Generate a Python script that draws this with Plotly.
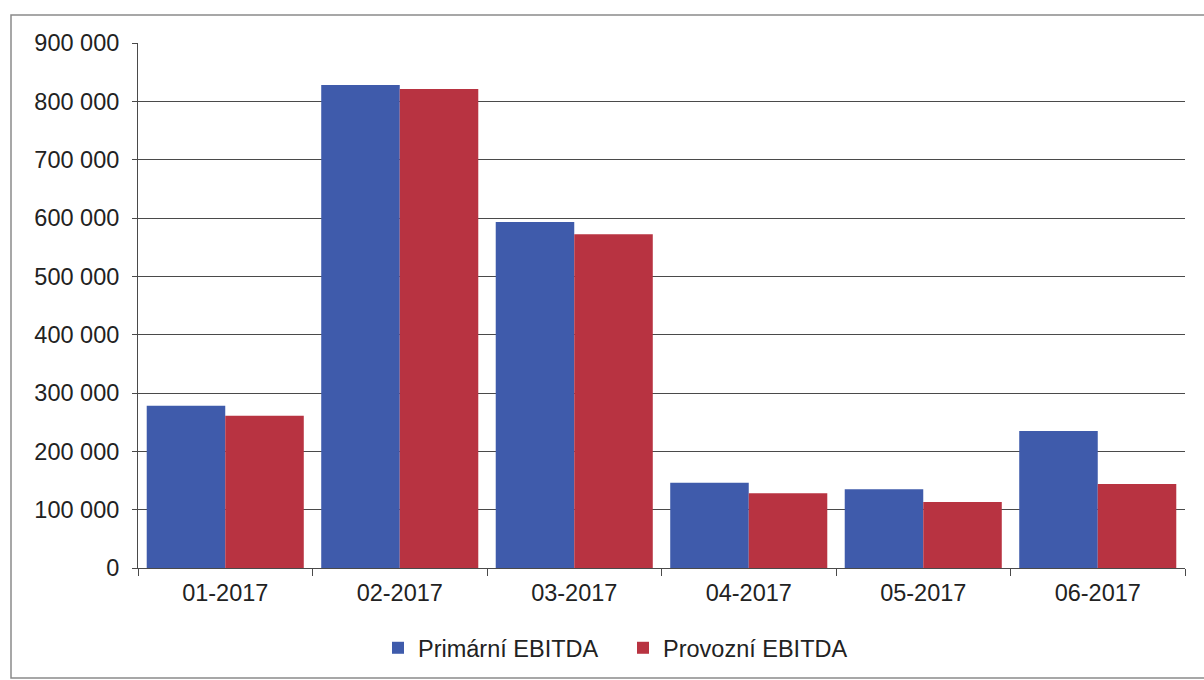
import plotly.graph_objects as go

categories = ["01-2017", "02-2017", "03-2017", "04-2017", "05-2017", "06-2017"]
primarni = [278000, 828000, 593000, 146000, 135000, 235000]
provozni = [261000, 821000, 572000, 128000, 113000, 144000]
y_ticks = [0, 100000, 200000, 300000, 400000, 500000, 600000, 700000, 800000, 900000]

W, H = 1204, 680
L, R, T, B = 138, 19, 43, 112
pw, ph = W - L - R, H - T - B

def px_x(p):
    return (p - L) / pw

def px_y(p):
    return (H - B - p) / ph

FS = 23.5

fig = go.Figure()
fig.add_trace(go.Bar(x=categories, y=primarni, name="Primární EBITDA",
                     marker=dict(color="#3F5BAB", line=dict(width=0))))
fig.add_trace(go.Bar(x=categories, y=provozni, name="Provozní EBITDA",
                     marker=dict(color="#B83341", line=dict(width=0))))

fig.update_layout(
    width=W, height=H,
    margin=dict(l=L, r=R, t=T, b=B, autoexpand=False),
    paper_bgcolor="white", plot_bgcolor="white",
    separators=", ",
    barmode="group", bargap=0.1, bargroupgap=0,
    font=dict(family="Liberation Sans, Arial, sans-serif", size=FS, color="#222222"),
    legend=dict(orientation="h", x=px_x(378), xanchor="left", y=px_y(626), yanchor="top",
                font=dict(size=FS), itemwidth=30, traceorder="normal",
                entrywidth=200, entrywidthmode="pixels",
                bgcolor="rgba(0,0,0,0)"),
    showlegend=True,
)
fig.update_yaxes(range=[0, 900000], tickvals=y_ticks, tickformat=",d",
                 showgrid=True, gridcolor="#4a4a4a", gridwidth=1,
                 showline=True, linecolor="#4a4a4a", linewidth=1,
                 ticks="outside", ticklen=5, tickcolor="#4a4a4a",
                 ticklabelstandoff=8,
                 zeroline=False, fixedrange=True)
fig.update_xaxes(showline=True, linecolor="#4a4a4a", linewidth=1,
                 ticks="outside", ticklen=7, tickcolor="#4a4a4a",
                 tickson="boundaries", showgrid=False, ticklabelstandoff=4,
                 fixedrange=True)

# outer frame of the chart (scanned page border)
fig.add_shape(type="rect", xref="paper", yref="paper",
              x0=px_x(11), x1=px_x(1215), y0=px_y(678), y1=px_y(15),
              line=dict(color="#8a8a8a", width=1.5), fillcolor="rgba(0,0,0,0)", layer="below")

fig.write_html("out.html", config={"displayModeBar": False},
               post_script="document.body.style.margin='0';document.body.style.padding='0';")
